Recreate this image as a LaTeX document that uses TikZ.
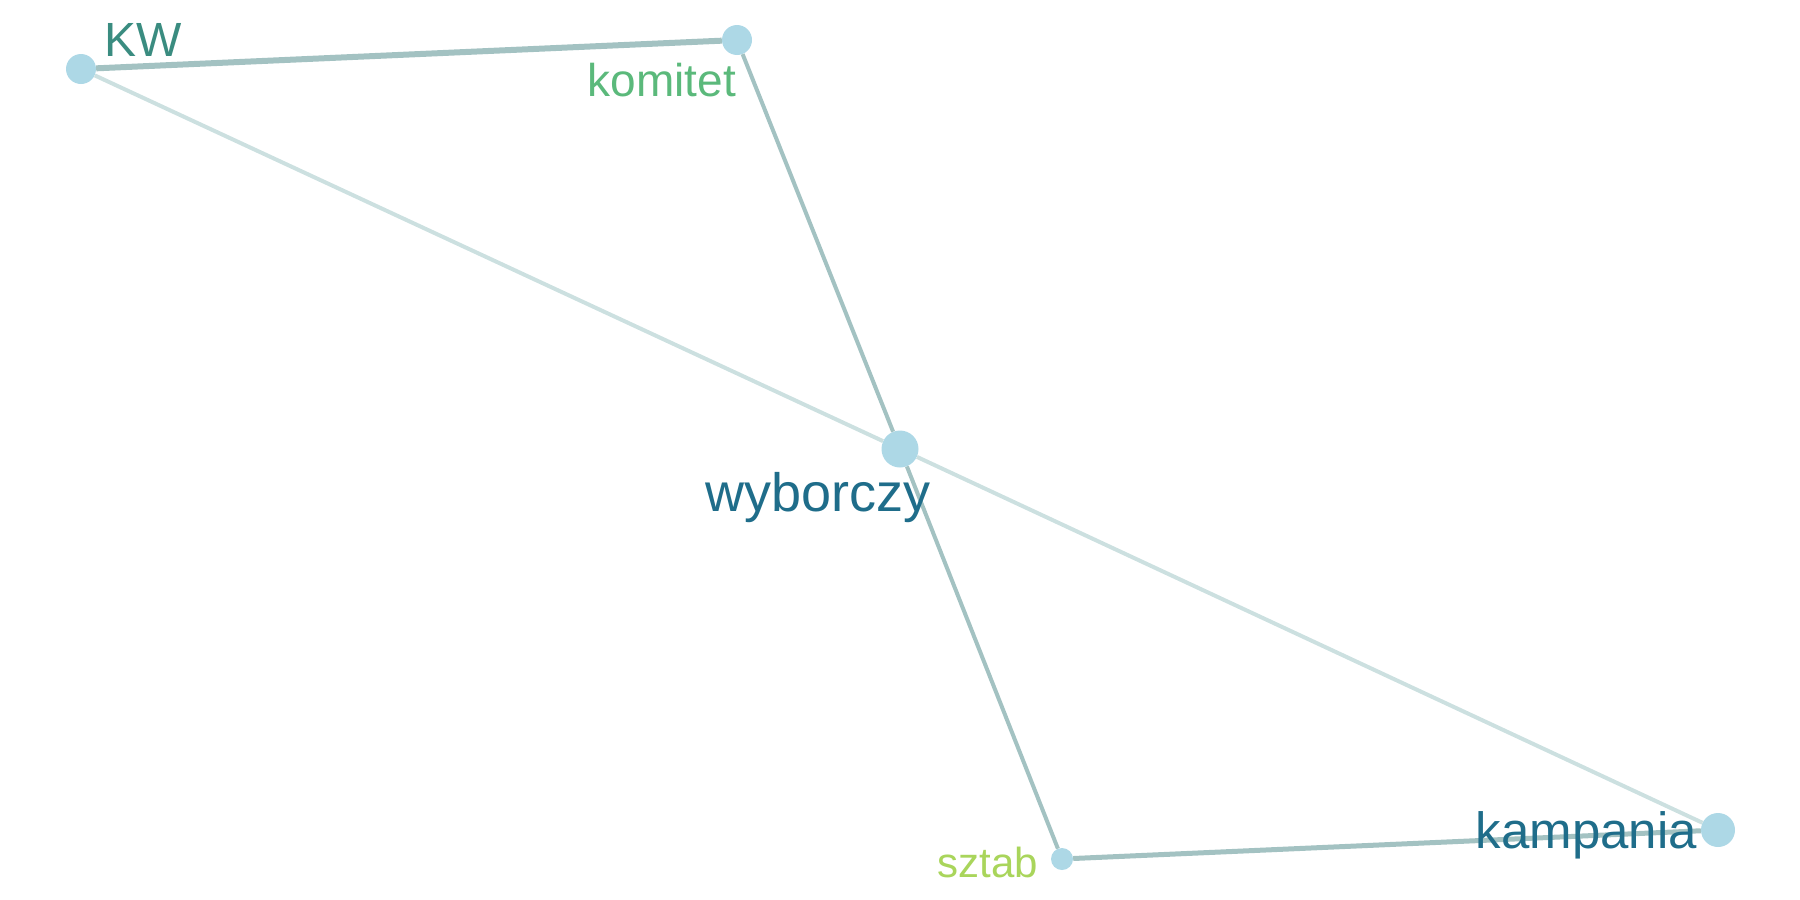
\documentclass[tikz,border=0pt]{standalone}
\usepackage{fontspec}
\setmainfont{Liberation Sans}
\usepackage{xcolor}
\definecolor{nodeblue}{HTML}{ADD8E6}
\definecolor{edgedark}{HTML}{A3C2C2}
\definecolor{edgelight}{HTML}{CCE0E0}
\definecolor{labteal}{HTML}{3A8C80}
\definecolor{labgreen}{HTML}{5BB97B}
\definecolor{labblue}{HTML}{1F6D8A}
\definecolor{labyellow}{HTML}{A9D55B}
\usetikzlibrary{positioning}

\begin{document}
\begin{tikzpicture}[
  x=1pt,y=-1pt,
  vertex/.style={circle,fill=nodeblue,inner sep=0pt,minimum size=#1},
  link/.style={draw=edgedark,line width=4pt},
  weaklink/.style={draw=edgelight,line width=4pt},
  strong/.style={draw=edgedark,line width=6pt},
  lab/.style={inner sep=0pt,font=\fontsize{#1}{#1}\selectfont}
]
\useasboundingbox (0,0) rectangle (1800,900);
\node[vertex=30pt] (kw) at (81,69) {};
\node[vertex=30pt] (komitet) at (737,40) {};
\node[vertex=37pt] (wyborczy) at (900,449) {};
\node[vertex=22pt] (sztab) at (1062,859) {};
\node[vertex=34pt] (kampania) at (1718,830) {};
\draw[strong] (kw) -- (komitet);
\draw[weaklink] (kw) -- (wyborczy);
\draw[weaklink] (wyborczy) -- (kampania);
\draw[link] (komitet) -- (wyborczy);
\draw[link] (wyborczy) -- (sztab);
\draw[link,line width=5pt] (sztab) -- (kampania);
\node[lab=48,text=labteal,anchor=base west] (kwlab) at (104,56) {KW};
\node[lab=46,text=labgreen,anchor=base east] (komitetlab) at (736,96) {komitet};
\node[lab=54,text=labblue,anchor=base west] (wyborczylab) at (705,511) {wyborczy};
\node[lab=51,text=labblue,anchor=base east] (kampanialab) at (1697,848) {kampania};
\node[lab=42,text=labyellow,anchor=base east] (sztablab) at (1038,877) {sztab};
\end{tikzpicture}
\end{document}
